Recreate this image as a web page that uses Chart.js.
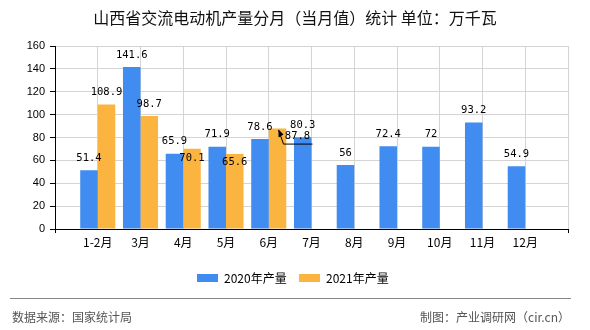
<!DOCTYPE html>
<html>
<head>
<meta charset="utf-8">
<script src="https://cdn.jsdelivr.net/npm/chart.js@4.4.1/dist/chart.umd.min.js"></script>
<style>
  html, body { margin: 0; padding: 0; background: #fff; }
  #wrap { position: relative; width: 590px; height: 330px; overflow: hidden;
          font-family: "Noto Sans CJK SC", "Noto Sans", sans-serif; }
  #chart { position: absolute; left: 0; top: 0; }
  .title { position: absolute; left: 0; width: 590px; top: 6px; text-align: center;
           font-size: 16px; line-height: 22px; color: #111; }
  .legend { position: absolute; top: 270px; height: 16px; font-size: 12px; line-height: 16px; color: #000; }
  .legend i { position: absolute; top: 4px; width: 21px; height: 8px; }
  .legend span { position: absolute; white-space: nowrap; }
  .rule { position: absolute; left: 10px; width: 561px; top: 298px; height: 1px; background: #888; }
  .foot { position: absolute; top: 309px; font-size: 12px; line-height: 16px; color: #555; white-space: nowrap; }
</style>
</head>
<body>
<div id="wrap">
  <canvas id="chart" width="590" height="330"></canvas>
  <div class="title">山西省交流电动机产量分月（当月值）统计 单位：万千瓦</div>
  <div class="legend" style="left:0;width:590px">
    <i style="left:197px;background:#418CF0"></i><span style="left:224px">2020年产量</span>
    <i style="left:299px;background:#FCB441"></i><span style="left:326px">2021年产量</span>
  </div>
  <div class="rule"></div>
  <div class="foot" style="left:12px">数据来源：国家统计局</div>
  <div class="foot" style="right:20px">制图：产业调研网（cir.cn）</div>
</div>
<script>
(function() {
  'use strict';

  // Datos
  const categories = ['1-2月', '3月', '4月', '5月', '6月', '7月', '8月', '9月', '10月', '11月', '12月'];
  const output2020 = [51.4, 141.6, 65.9, 71.9, 78.6, 80.3, 56, 72.4, 72, 93.2, 54.9];
  const output2021 = [108.9, 98.7, 70.1, 65.6, 87.8, null, null, null, null, null, null];
  const yMax = 160;
  const yStep = 20;

  // eje x de 0 a 12: categorías en las líneas de la rejilla
  const labels = [''].concat(categories, ['']);
  const pad = arr => [null].concat(arr, [null]);

  const BLUE = '#418CF0';
  const ORANGE = '#FCB441';

  // desplazamientos de etiquetas que se solapan (dataset-index)
  const labelShift = { '1-3': [0, 21], '1-4': [0, 20], '1-5': [20, 20] };

  const valueLabels = {
    id: 'valueLabels',
    afterDatasetsDraw(chart) {
      const ctx = chart.ctx;
      ctx.save();
      ctx.font = '10.5px "DejaVu Sans Mono", monospace';
      ctx.fillStyle = '#000';
      ctx.textAlign = 'center';
      ctx.textBaseline = 'middle';
      chart.data.datasets.forEach((ds, di) => {
        const meta = chart.getDatasetMeta(di);
        meta.data.forEach((bar, i) => {
          const v = ds.data[i];
          if (v === null || v === undefined) return;
          const shift = labelShift[di + '-' + i] || [0, 0];
          const x = bar.x + shift[0];
          const y = bar.y - 12 + shift[1];
          ctx.fillText(String(v), x, y);
          if (shift[0] !== 0) {
            // línea guía
            ctx.strokeStyle = '#000';
            ctx.lineWidth = 1;
            ctx.beginPath();
            ctx.moveTo(bar.x + 1, bar.y + 1.5);
            ctx.lineTo(bar.x + 6, bar.y + 15.5);
            ctx.lineTo(bar.x + 35, bar.y + 15.5);
            ctx.stroke();
            ctx.beginPath();
            ctx.moveTo(bar.x + 1, bar.y + 1);
            ctx.lineTo(bar.x + 1, bar.y + 9);
            ctx.lineTo(bar.x + 6, bar.y + 6);
            ctx.closePath();
            ctx.fill();
          }
        });
      });
      ctx.restore();
    }
  };

  const canvas = document.getElementById('chart');
  new Chart(canvas.getContext('2d'), {
    type: 'bar',
    data: {
      labels: labels,
      datasets: [
        { label: '2020年产量', data: pad(output2020), backgroundColor: BLUE,
          categoryPercentage: 0.82, barPercentage: 1 },
        { label: '2021年产量', data: pad(output2021), backgroundColor: ORANGE,
          categoryPercentage: 0.82, barPercentage: 1 }
      ]
    },
    options: {
      responsive: false,
      animation: false,
      layout: { padding: { left: 0, top: 46, right: 22, bottom: 71 } },
      plugins: {
        legend: { display: false },
        tooltip: { enabled: false }
      },
      scales: {
        x: {
          offset: false,
          grid: {
            offset: false,
            color: '#d4d4d4',
            tickLength: 4,
            tickColor: c => (c.index === 0 || c.index === labels.length - 1) ? '#000' : 'rgba(0,0,0,0)'
          },
          border: { color: '#000', width: 1 },
          ticks: {
            padding: 2,
            maxRotation: 0,
            autoSkip: false,
            color: '#000',
            font: { family: '"Noto Sans CJK SC", sans-serif', size: 12 }
          },
          afterFit: s => { s.height = 30; }
        },
        y: {
          min: 0,
          max: yMax,
          grid: { color: '#d4d4d4', tickLength: 5, tickColor: '#000' },
          border: { color: '#000', width: 1 },
          ticks: {
            stepSize: yStep,
            padding: 5,
            color: '#000',
            font: { family: '"Liberation Sans", Arial, sans-serif', size: 11 }
          },
          afterFit: s => { s.width = 55; }
        }
      }
    },
    plugins: [valueLabels]
  });
})();
</script>
</body>
</html>
